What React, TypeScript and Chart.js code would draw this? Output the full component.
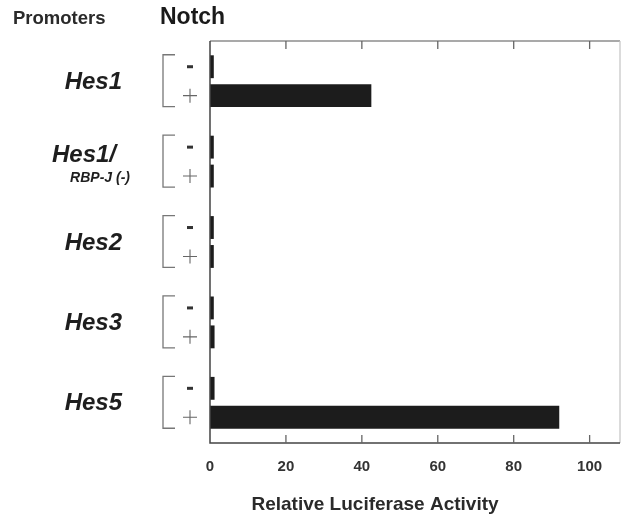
import { useEffect, useRef } from "react";
import { Chart, registerables } from "chart.js";

Chart.register(...registerables);

const promoters = ["Hes1", "Hes1/", "Hes2", "Hes3", "Hes5"];
const promoterSubLabels = ["", "RBP-J (-)", "", "", ""];
const notchMinus = [1, 1, 1, 1, 1.2];
const notchPlus = [42.5, 1, 1, 1.2, 92];
const xTicks = [0, 20, 40, 60, 80, 100];
const xMax = 108;
const xTitle = "Relative Luciferase Activity";
const leftHeader = "Promoters";
const topHeader = "Notch";

const FONT = "'Liberation Sans', Arial, Helvetica, sans-serif";

const decorPlugin = {
  id: "decor",
  afterDraw(chart: any) {
    const { ctx, chartArea: a, scales } = chart;
    const x = scales.x;
    const y = scales.y;
    ctx.save();

    // frame
    ctx.lineCap = "butt";
    ctx.lineWidth = 1.3;
    ctx.strokeStyle = "#8c8c8c";
    ctx.beginPath();
    ctx.moveTo(a.left, a.top);
    ctx.lineTo(a.right, a.top);
    ctx.stroke();
    ctx.strokeStyle = "#c8c8c8";
    ctx.beginPath();
    ctx.moveTo(a.right, a.top);
    ctx.lineTo(a.right, a.bottom);
    ctx.stroke();
    ctx.strokeStyle = "#444";
    ctx.lineWidth = 1.5;
    ctx.beginPath();
    ctx.moveTo(a.left, a.top);
    ctx.lineTo(a.left, a.bottom);
    ctx.lineTo(a.right, a.bottom);
    ctx.stroke();

    // inward ticks
    ctx.lineWidth = 1.3;
    ctx.strokeStyle = "#666";
    xTicks.forEach((v) => {
      if (v === 0) return;
      const px = x.getPixelForValue(v);
      ctx.beginPath();
      ctx.moveTo(px, a.bottom);
      ctx.lineTo(px, a.bottom - 8);
      ctx.moveTo(px, a.top);
      ctx.lineTo(px, a.top + 8);
      ctx.stroke();
    });

    const m0 = chart.getDatasetMeta(0);
    const m1 = chart.getDatasetMeta(1);

    promoters.forEach((name, i) => {
      const c = y.getPixelForValue(i);
      const yMinus = m0.data[i].y;
      const yPlus = m1.data[i].y;
      ctx.fillStyle = "#1e1e1e";
      ctx.textBaseline = "middle";
      ctx.textAlign = "right";
      const sub = promoterSubLabels[i];
      if (sub) {
        ctx.font = `italic bold 24px ${FONT}`;
        ctx.fillText(name, 116, c - 6);
        ctx.font = `italic bold 14px ${FONT}`;
        ctx.fillText(sub, 130, c + 17);
      } else {
        ctx.font = `italic bold 24px ${FONT}`;
        ctx.fillText(name, 122, c + 1);
      }

      // bracket
      ctx.strokeStyle = "#777";
      ctx.lineWidth = 1.3;
      ctx.beginPath();
      ctx.moveTo(175, yMinus - 12);
      ctx.lineTo(163, yMinus - 12);
      ctx.lineTo(163, yPlus + 11);
      ctx.lineTo(175, yPlus + 11);
      ctx.stroke();

      // minus sign
      ctx.fillStyle = "#333";
      ctx.fillRect(187, yMinus - 1.5, 6, 3);

      // plus sign
      ctx.strokeStyle = "#666";
      ctx.lineWidth = 1.1;
      ctx.beginPath();
      ctx.moveTo(183, yPlus);
      ctx.lineTo(197, yPlus);
      ctx.moveTo(190, yPlus - 7);
      ctx.lineTo(190, yPlus + 7);
      ctx.stroke();
    });

    // headers
    ctx.fillStyle = "#2a2a2a";
    ctx.textAlign = "left";
    ctx.textBaseline = "middle";
    ctx.font = `bold 18.5px ${FONT}`;
    ctx.fillText(leftHeader, 13, 19);
    ctx.fillStyle = "#1a1a1a";
    ctx.font = `bold 23px ${FONT}`;
    ctx.fillText(topHeader, 160, 18);

    // x title
    ctx.fillStyle = "#2a2a2a";
    ctx.textAlign = "center";
    ctx.font = `bold 19px ${FONT}`;
    ctx.fillText(xTitle, 375, 505);

    ctx.restore();
  },
};

export default function App() {
  const ref = useRef<HTMLCanvasElement | null>(null);

  useEffect(() => {
    if (!ref.current) return;
    const chart = new Chart(ref.current, {
      type: "bar",
      data: {
        labels: promoters,
        datasets: [
          {
            label: "-",
            data: notchMinus,
            backgroundColor: "#1c1c1c",
            borderWidth: 0,
            categoryPercentage: 0.72,
            barPercentage: 0.79,
          },
          {
            label: "+",
            data: notchPlus,
            backgroundColor: "#1c1c1c",
            borderWidth: 0,
            categoryPercentage: 0.72,
            barPercentage: 0.79,
          },
        ],
      },
      options: {
        indexAxis: "y",
        animation: false,
        responsive: true,
        maintainAspectRatio: false,
        layout: { padding: { left: 210, right: 2, top: 41, bottom: 31 } },
        plugins: {
          legend: { display: false },
          tooltip: { enabled: false },
          title: { display: false },
        },
        scales: {
          x: {
            type: "linear",
            min: 0,
            max: xMax,
            afterBuildTicks: (scale: any) => {
              scale.ticks = xTicks.map((v) => ({ value: v }));
            },
            grid: { display: false },
            border: { display: false },
            ticks: {
              padding: 7,
              color: "#333",
              font: { family: FONT, size: 15, weight: "bold" },
              maxRotation: 0,
            },
          },
          y: {
            display: false,
          },
        },
      },
      plugins: [decorPlugin],
    });
    return () => chart.destroy();
  }, []);

  return (
    <div style={{ position: "fixed", left: 0, top: 0, width: 622, height: 514, background: "#fff" }}>
      <canvas ref={ref} />
    </div>
  );
}
